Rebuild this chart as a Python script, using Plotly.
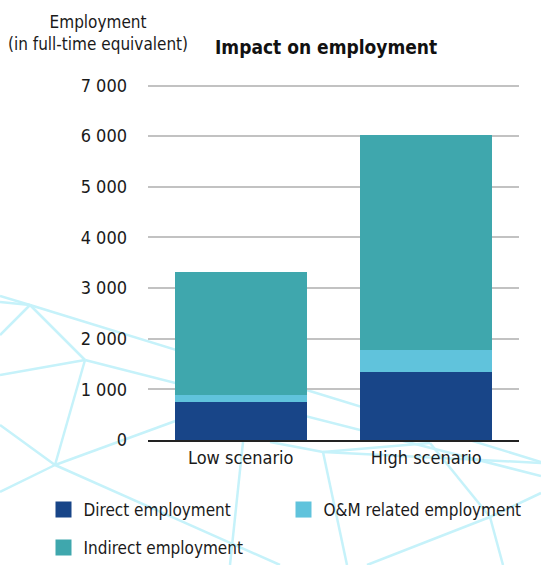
import plotly.graph_objects as go

scenarios = ["Low scenario", "High scenario"]
direct = [750, 1340]
om_related = [140, 440]
indirect = [2430, 4250]

series_names = ["Direct employment", "O&M related employment", "Indirect employment"]
series_colors = ["#184588", "#60c3dc", "#3fa7ad"]
legend_rows = ["legend", "legend", "legend2"]

W, H = 541, 565
ML, MR, MT, MB = 148, 22, 82, 125
FONT = "DejaVu Sans Condensed, Liberation Sans Narrow, Liberation Sans, sans-serif"


def px2paper(x, y):
    return (x - ML) / (W - ML - MR), (H - MB - y) / (H - MT - MB)


# decorative background network (pixel coords of the page)
net = [
    ((0, 296), (30, 305)), ((0, 302), (30, 305)), ((30, 305), (541, 462)),
    ((30, 305), (0, 335)), ((30, 305), (85, 360)),
    ((0, 375), (85, 360)), ((85, 360), (541, 476)),
    ((85, 360), (55, 465)), ((0, 425), (55, 465)),
    ((55, 465), (200, 412)), ((55, 465), (0, 492)), ((55, 465), (280, 565)),
    ((243, 442), (230, 565)), ((323, 452), (347, 565)),
    ((270, 442), (323, 452)), ((323, 452), (430, 443)),
    ((430, 443), (490, 517)), ((490, 517), (541, 493)),
    ((490, 517), (503, 565)), ((490, 517), (367, 565)),
    ((323, 452), (541, 463)),
]
shapes = []
for (x0, y0), (x1, y1) in net:
    a0, b0 = px2paper(x0, y0)
    a1, b1 = px2paper(x1, y1)
    shapes.append(dict(type="line", xref="paper", yref="paper", x0=a0, y0=b0, x1=a1, y1=b1,
                       line=dict(color="#c6f2fa", width=2.5), layer="below"))

fig = go.Figure()
for vals, name, col in zip([direct, om_related, indirect], series_names, series_colors):
    fig.add_trace(go.Bar(x=scenarios, y=vals, name=name, marker_color=col,
                         marker_line_width=0, showlegend=False))
for name, col, lg in zip(series_names, series_colors, legend_rows):
    fig.add_trace(go.Scatter(x=[None], y=[None], mode="markers", name=name, legend=lg,
                             marker=dict(symbol="square", size=16, color=col)))

lx = px2paper(43.5, 0)[0]
leg = dict(orientation="h", traceorder="normal", x=lx, xanchor="left", yanchor="middle",
           entrywidth=195, font=dict(size=17), tracegroupgap=0, bgcolor="rgba(0,0,0,0)")

fig.update_layout(
    width=W, height=H,
    margin=dict(l=ML, r=MR, t=MT, b=MB, autoexpand=False),
    barmode="stack", bargap=0.29,
    paper_bgcolor="white", plot_bgcolor="rgba(0,0,0,0)",
    separators=", ",
    font=dict(family=FONT, size=17, color="#1a1a1a"),
    shapes=shapes,
    legend=dict(leg, y=px2paper(0, 510)[1]),
    legend2=dict(leg, y=px2paper(0, 548)[1]),
    annotations=[
        dict(text="<b>Impact on employment</b>", xref="paper", yref="paper",
             x=px2paper(213, 0)[0], y=px2paper(0, 47)[1], xanchor="left", yanchor="middle",
             showarrow=False, font=dict(size=19, color="#111")),
        dict(text="Employment<br>(in full-time equivalent)", xref="paper", yref="paper",
             x=px2paper(98, 0)[0], y=px2paper(0, 33)[1], xanchor="center", yanchor="middle",
             showarrow=False, font=dict(size=17, color="#1a1a1a")),
    ],
)
fig.update_xaxes(showline=True, linecolor="#222", linewidth=2, ticks="",
                 tickfont=dict(size=18), showgrid=False)
fig.update_yaxes(range=[0, 7070], dtick=1000, tickformat=",", showline=False,
                 gridcolor="#c2c2c2", gridwidth=2, zeroline=False,
                 ticklabelstandoff=20, tickfont=dict(size=18))

fig.write_html("out.html", config={"displayModeBar": False},
               post_script="document.body.style.margin='0';")
